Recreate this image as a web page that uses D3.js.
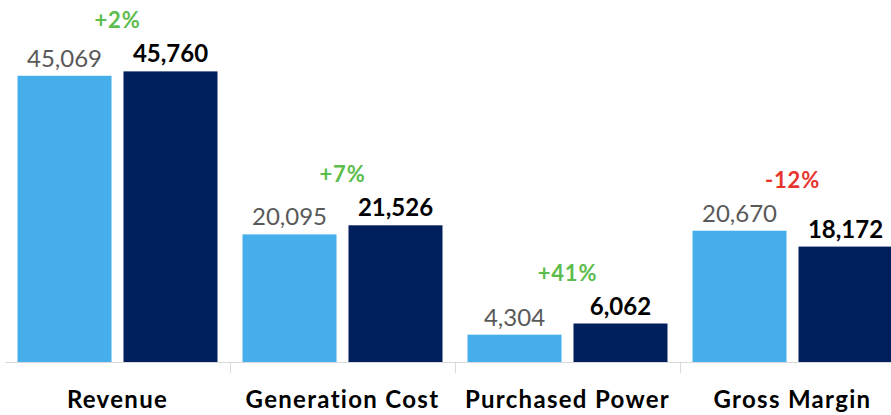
<!DOCTYPE html>
<html>
<head>
<meta charset="UTF-8">
<title>Gross Margin</title>
<script src="https://d3js.org/d3.v7.min.js"></script>
<style>
  body { margin: 0; background: #fff; }
  text { font-family: Lato, "Open Sans", sans-serif; }
</style>
</head>
<body>
<svg width="891" height="415"></svg>
<script>
// data
var categories = ["Revenue", "Generation Cost", "Purchased Power", "Gross Margin"];
var series = ["prior", "current"];
var priorValues = [45069, 20095, 4304, 20670];
var currentValues = [45760, 21526, 6062, 18172];

var width = 891, height = 415, baseY = 362;
var svg = d3.select("svg");

var x0 = d3.scaleBand().domain(categories).range([5, 905]);
var x1 = d3.scaleBand().domain(series).range([0, x0.step()])
  .paddingInner(0.113).paddingOuter(0.118);
var y = d3.scaleLinear().domain([0, 57000]).range([baseY, 0]);

var colors = { prior: "#45aeeb", current: "#001f5c" };
var fmt = d3.format(",");

var rows = categories.map(function(c, i) {
  return { cat: c, prior: priorValues[i], current: currentValues[i] };
});

// baseline + separator ticks
svg.append("line")
  .attr("x1", 5).attr("x2", width)
  .attr("y1", baseY + 0.5).attr("y2", baseY + 0.5)
  .attr("stroke", "#d9d9d9").attr("stroke-width", 1);

svg.selectAll("line.sep")
  .data(categories.slice(1))
  .enter().append("line")
  .attr("class", "sep")
  .attr("x1", function(d) { return Math.round(x0(d)) + 0.5; })
  .attr("x2", function(d) { return Math.round(x0(d)) + 0.5; })
  .attr("y1", baseY).attr("y2", baseY + 11)
  .attr("stroke", "#d9d9d9");

var g = svg.selectAll("g.cat")
  .data(rows)
  .enter().append("g")
  .attr("class", "cat")
  .attr("transform", function(d) { return "translate(" + x0(d.cat) + ",0)"; });

g.selectAll("rect")
  .data(function(d) { return series.map(function(s) { return { s: s, v: d[s] }; }); })
  .enter().append("rect")
  .attr("x", function(d) { return x1(d.s); })
  .attr("y", function(d) { return y(d.v); })
  .attr("width", x1.bandwidth())
  .attr("height", function(d) { return baseY - y(d.v); })
  .attr("fill", function(d) { return colors[d.s]; });

// value labels
g.selectAll("text.val")
  .data(function(d) { return series.map(function(s) { return { s: s, v: d[s] }; }); })
  .enter().append("text")
  .attr("class", "val")
  .attr("x", function(d) { return x1(d.s) + x1.bandwidth() / 2; })
  .attr("y", function(d) { return y(d.v) - 9; })
  .attr("text-anchor", "middle")
  .attr("font-size", 24)
  .attr("font-weight", function(d) { return d.s == "current" ? "bold" : "normal"; })
  .attr("fill", function(d) { return d.s == "current" ? "#000" : "#595959"; })
  .text(function(d) { return fmt(d.v); });

// change labels
g.append("text")
  .attr("x", x0.step() / 2)
  .attr("y", function(d) { return y(Math.max(d.prior, d.current)) - 43; })
  .attr("text-anchor", "middle")
  .attr("font-size", 22)
  .attr("font-weight", "bold")
  .attr("letter-spacing", 0.8)
  .attr("fill", function(d) { return d.current >= d.prior ? "#5cbd4c" : "#e8342e"; })
  .text(function(d) {
    var p = Math.round((d.current / d.prior - 1) * 100);
    return (p >= 0 ? "+" : "") + p + "%";
  });

// category labels
g.append("text")
  .attr("x", x0.step() / 2)
  .attr("y", 408)
  .attr("text-anchor", "middle")
  .attr("font-size", 24)
  .attr("font-weight", "bold")
  .attr("letter-spacing", 1.3)
  .attr("fill", "#000")
  .text(function(d) { return d.cat; });
</script>
</body>
</html>
